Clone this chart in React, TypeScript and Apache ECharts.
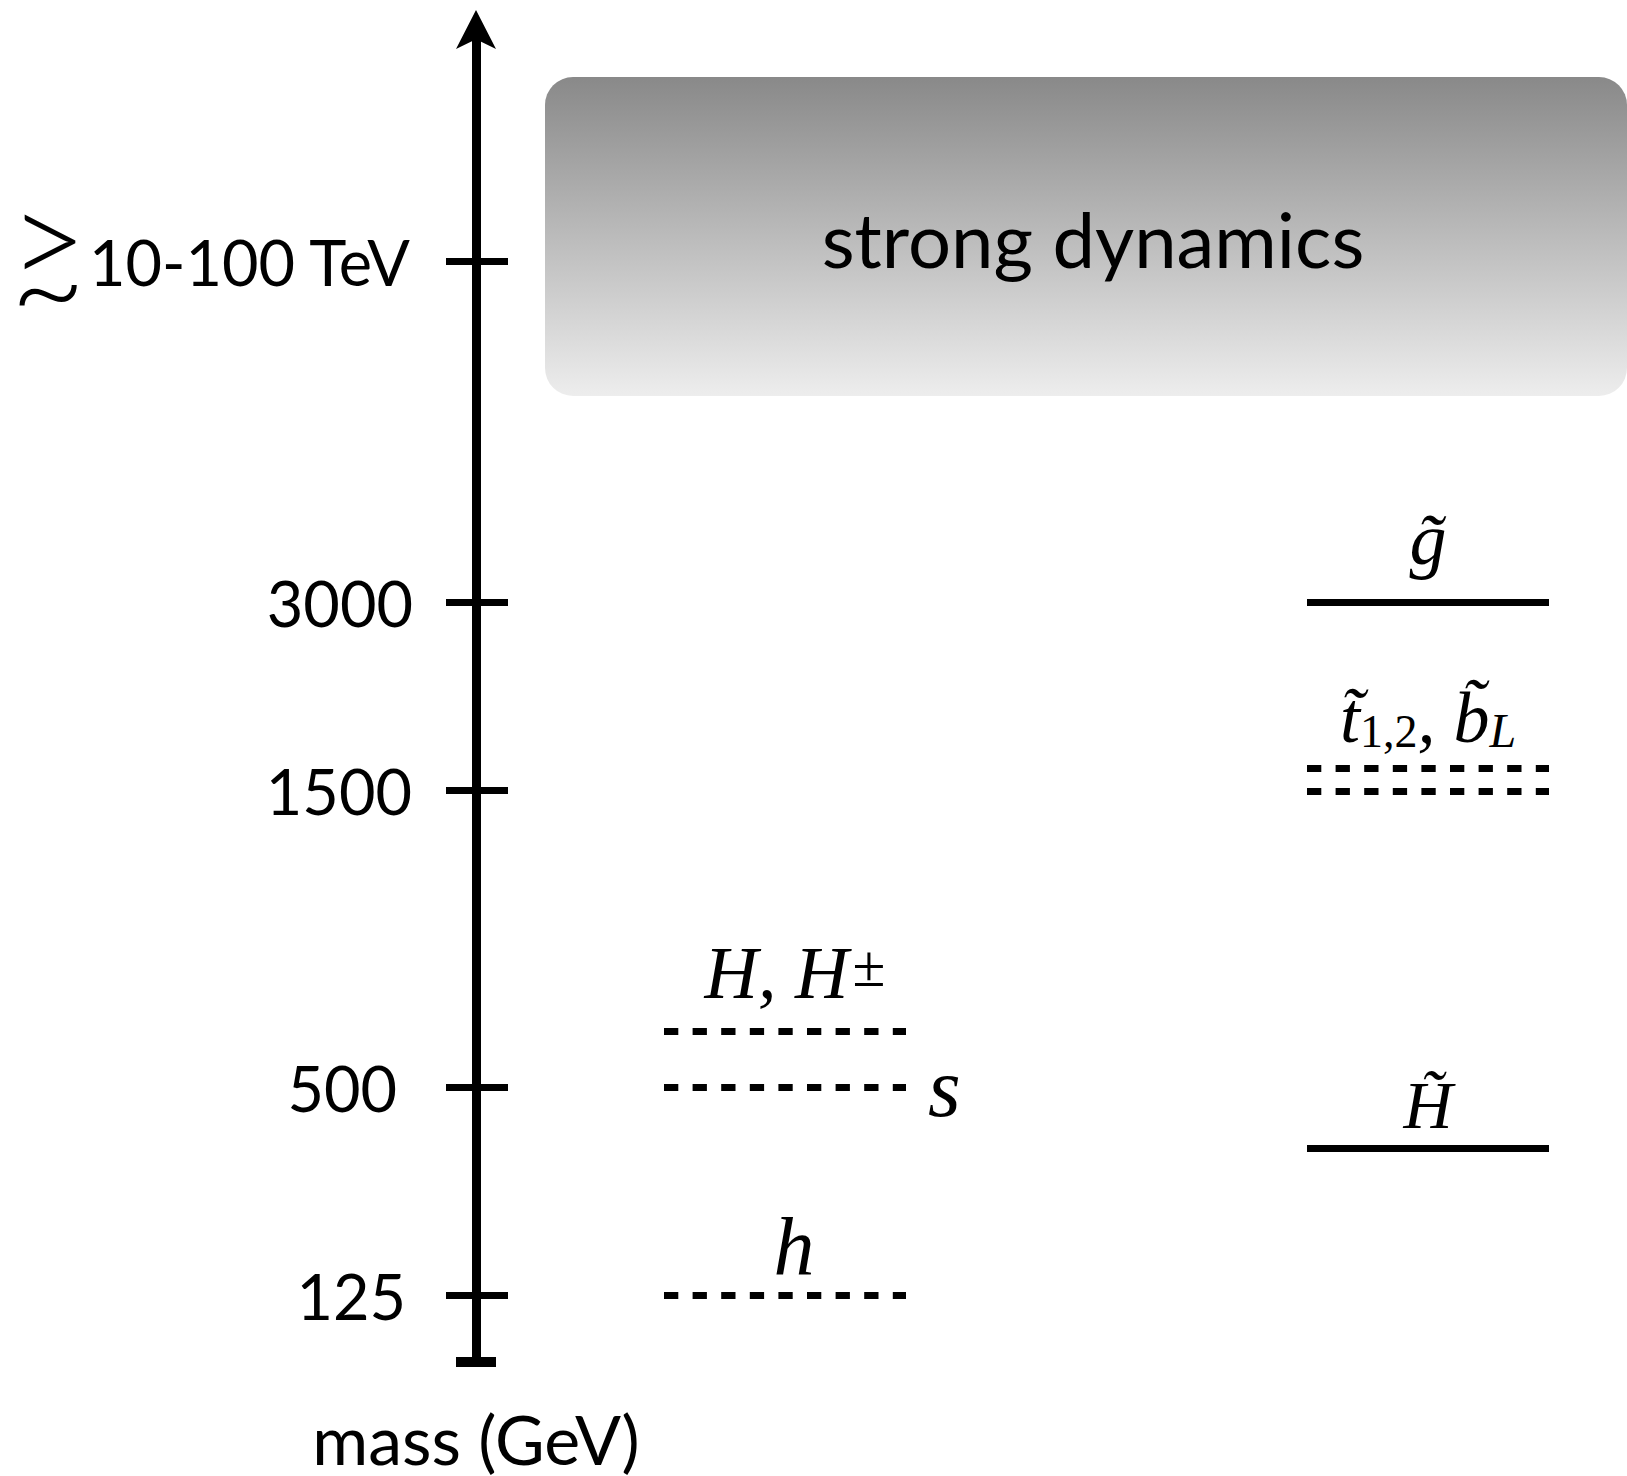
import React, { useEffect, useRef } from 'react';
import * as echarts from 'echarts';

// Schematic mass axis: levels are positions on the (non-linear) schematic scale
const tickLabels = ['125', '500', '1500', '3000', '10-100 TeV'];
const tickLevels = [0.67, 2.75, 5.714, 7.6, 11.005];
const axisTop = 13.325;

// Particle spectrum
const particles = ['h', 's', 'H', 'stop1', 'stop2', 'higgsino', 'gluino'];
const particleLevels = [0.67, 2.75, 3.31, 5.94, 5.71, 2.14, 7.6];
const particleColumns = [0, 0, 0, 1, 1, 1, 1];
const particleSpin = ['scalar', 'scalar', 'scalar', 'scalar', 'scalar', 'fermion', 'fermion'];

// Horizontal extent of the two columns (schematic units)
const columnStart = [18.8, 83.1];
const columnEnd = [43.0, 107.3];

// Strong dynamics band
const bandLevels = [9.66, 12.85];
const bandSpan = [6.9, 115.1];
const bandLabel = 'strong dynamics';

const axisName = 'mass (GeV)';

const MATH = 'Liberation Serif';
const SANS = 'Lato';

const labelStyles: Record<string, any> = {
  h: {
    formatter: 'h',
    position: 'insideMiddleTop',
    distance: 8,
    offset: [9, 0],
    fontSize: 82,
  },
  s: {
    formatter: 's',
    position: 'end',
    distance: 22,
    fontSize: 84,
  },
  H: {
    formatter: '{m|H, H}{sup|±}',
    position: 'insideMiddleTop',
    distance: 21,
    offset: [10, 0],
    rich: {
      m: { fontFamily: MATH, fontStyle: 'italic', fontSize: 74, lineHeight: 74, color: '#000' },
      sup: { fontFamily: MATH, fontStyle: 'normal', fontSize: 60, lineHeight: 54, verticalAlign: 'top', color: '#000', padding: [0, 0, 0, 4] },
    },
  },
  stop1: {
    formatter: '{m|t\u0303}{sub|1,2}{m|, b\u0303}{subL|L}',
    position: 'insideMiddleTop',
    distance: 14,
    rich: {
      m: { fontFamily: MATH, fontStyle: 'italic', fontSize: 72, lineHeight: 72, color: '#000' },
      sub: { fontFamily: MATH, fontStyle: 'normal', fontSize: 46, lineHeight: 28, verticalAlign: 'bottom', color: '#000' },
      subL: { fontFamily: MATH, fontStyle: 'italic', fontSize: 48, lineHeight: 28, verticalAlign: 'bottom', color: '#000' },
    },
  },
  higgsino: {
    formatter: 'H\u0303',
    position: 'insideMiddleTop',
    distance: 9,
    fontSize: 68,
  },
  gluino: {
    formatter: 'g\u0303',
    position: 'insideMiddleTop',
    distance: 26,
    fontSize: 74,
  },
};

// right paddings so that labels sit like in the original
const tickLabelPad = [7, 16, 1, 0, 3];

function buildLevelData(spin: string) {
  const out: any[] = [];
  particles.forEach((p, i) => {
    if (particleSpin[i] !== spin) return;
    const c = particleColumns[i];
    const y = particleLevels[i];
    const ls = labelStyles[p];
    const item: any = {
      name: p,
      coords: [
        [columnStart[c], y],
        [columnEnd[c], y],
      ],
    };
    if (ls) {
      item.label = {
        show: true,
        color: '#000',
        fontFamily: MATH,
        fontStyle: 'italic',
        ...ls,
      };
    } else {
      item.label = { show: false };
    }
    out.push(item);
  });
  return out;
}

export default function App() {
  const ref = useRef<HTMLDivElement>(null);

  useEffect(() => {
    document.body.style.margin = '0';
    if (!ref.current) return;
    const chart = echarts.init(ref.current, null, { renderer: 'svg' });

    const richTicks: Record<string, any> = {};
    tickLabels.forEach((_, i) => {
      richTicks['t' + i] = {
        fontFamily: SANS,
        fontSize: 63,
        color: '#000',
        padding: [0, tickLabelPad[i], 0, 0],
      };
    });
    const last = tickLabels.length - 1;

    const findTick = (v: number) => {
      let idx = -1;
      tickLevels.forEach((t, i) => {
        if (Math.abs(t - v) < 1e-6) idx = i;
      });
      return idx;
    };

    const tickFormatter = (v: number) => {
      const idx = findTick(v);
      if (idx < 0) return '';
      return '{t' + idx + '|' + tickLabels[idx] + '}';
    };

    // "≳" drawn as stacked ">" and "~" on the inner axis, at the top tick only
    const gtrsimFormatter = (v: number) => {
      const idx = findTick(v);
      if (idx !== last) return '';
      return '{gt|>}\n{tl|~}';
    };

    const option: any = {
      animation: false,
      backgroundColor: '#fff',
      grid: { left: 476, right: 0, top: 29.5, bottom: 114, outerBoundsMode: 'none', containLabel: false },
      xAxis: { type: 'value', min: 0, max: 115.1, show: false },
      yAxis: [
        {
          type: 'value',
          min: 0,
          max: axisTop,
          position: 'left',
          name: axisName,
          nameLocation: 'start',
          nameGap: 76,
          nameTextStyle: {
            fontFamily: SANS,
            fontSize: 68,
            color: '#000',
            align: 'center',
            verticalAlign: 'middle',
          },
          axisLine: {
            show: true,
            symbol: ['none', 'arrow'],
            symbolSize: [30, 39],
            symbolOffset: [0, 19.5],
            lineStyle: { color: '#000', width: 9, cap: 'butt' },
          },
          axisTick: {
            show: true,
            customValues: tickLevels,
            length: 30,
            inside: false,
            lineStyle: { color: '#000', width: 7 },
          },
          axisLabel: {
            show: true,
            customValues: tickLevels,
            margin: 63,
            formatter: tickFormatter,
            rich: richTicks,
          },
          splitLine: { show: false },
        },
        {
          type: 'value',
          min: 0,
          max: axisTop,
          position: 'left',
          axisLine: { show: false },
          axisTick: {
            show: true,
            customValues: tickLevels,
            length: 32,
            inside: true,
            lineStyle: { color: '#000', width: 7 },
          },
          axisLabel: {
            show: true,
            customValues: tickLevels,
            margin: 428,
            formatter: gtrsimFormatter,
            align: 'center',
            rich: {
              gt: { fontFamily: SANS, fontWeight: 300, fontSize: 135, lineHeight: 44, color: '#000', align: 'center' },
              tl: { fontFamily: SANS, fontWeight: 300, fontSize: 130, lineHeight: 54, color: '#000', align: 'center' },
            },
          },
          splitLine: { show: false },
        },
      ],
      series: [
        {
          type: 'custom',
          name: bandLabel,
          silent: true,
          clip: false,
          data: [[bandSpan[0], bandSpan[1], bandLevels[0], bandLevels[1]]],
          renderItem: (params: any, api: any) => {
            const p0 = api.coord([api.value(0), api.value(3)]);
            const p1 = api.coord([api.value(1), api.value(2)]);
            return {
              type: 'rect',
              shape: { x: p0[0], y: p0[1], width: p1[0] - p0[0], height: p1[1] - p0[1], r: 28 },
              style: {
                fill: new echarts.graphic.LinearGradient(0, 0, 0, 1, [
                  { offset: 0, color: '#898989' },
                  { offset: 1, color: '#ededed' },
                ]),
              },
              textContent: {
                style: {
                  text: bandLabel,
                  fontFamily: SANS,
                  fontSize: 76,
                  fill: '#000',
                },
              },
              textConfig: { position: 'inside', offset: [7, 2] },
            };
          },
        },
        {
          type: 'lines',
          name: 'scalars',
          coordinateSystem: 'cartesian2d',
          silent: true,
          lineStyle: { color: '#000', width: 7, type: [14.3, 14.3], cap: 'butt', opacity: 1 },
          data: buildLevelData('scalar'),
        },
        {
          type: 'lines',
          name: 'fermions',
          coordinateSystem: 'cartesian2d',
          silent: true,
          lineStyle: { color: '#000', width: 7, type: 'solid', cap: 'butt', opacity: 1 },
          data: buildLevelData('fermion'),
        },
        {
          type: 'lines',
          name: 'axis foot',
          coordinateSystem: 'cartesian2d',
          silent: true,
          clip: false,
          lineStyle: { color: '#000', width: 10, type: 'solid', cap: 'butt', opacity: 1 },
          data: [{ coords: [[-2.0, 0], [2.0, 0]] }],
        },
      ],
    };

    chart.setOption(option);
    return () => chart.dispose();
  }, []);

  return (
    <div
      ref={ref}
      style={{ position: 'absolute', left: 0, top: 0, width: 1627, height: 1476 }}
    />
  );
}
